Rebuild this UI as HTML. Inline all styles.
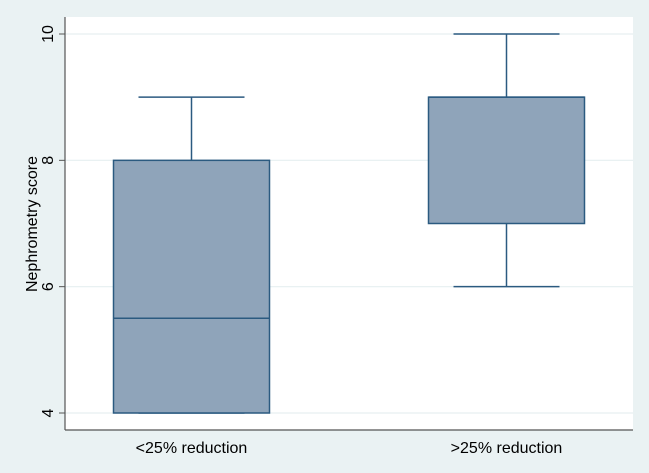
<!DOCTYPE html>
<html><head><meta charset="utf-8"><style>
html,body{margin:0;padding:0;background:#eaf2f3;}
svg{display:block;font-family:"Liberation Sans",sans-serif;}
</style></head><body>
<svg width="649" height="473" viewBox="0 0 649 473">
<rect x="0" y="0" width="649" height="473" fill="#eaf2f3"/>
<rect x="65" y="17" width="568" height="413" fill="#ffffff"/>
<g id="grid"></g>
<g id="boxes"></g>
<line x1="65" y1="17" x2="65" y2="430" stroke="#555" stroke-width="1.2"/>
<line x1="65" y1="430" x2="633" y2="430" stroke="#555" stroke-width="1.2"/>
<g id="yticks"></g>
<g id="xlabels"></g>
<text transform="translate(37,224) rotate(-90)" text-anchor="middle" font-size="16" fill="#000">Nephrometry score</text>
</svg>
<script>
const categories = ["<25% reduction", ">25% reduction"];
const mins = [4, 6];
const q1s = [4, 7];
const medians = [5.5, 9];
const q3s = [8, 9];
const maxs = [9, 10];
const yTicks = [4, 6, 8, 10];

const NS = "http://www.w3.org/2000/svg";
const y = v => 413 - (v - 4) * (413 - 34) / 6;
const xCenters = i => 191.5 + i * 315;
function mk(tag, attrs, parent) {
  const e = document.createElementNS(NS, tag);
  for (const k in attrs) e.setAttribute(k, attrs[k]);
  parent.appendChild(e);
  return e;
}
const grid = document.getElementById('grid');
const yt = document.getElementById('yticks');
yTicks.forEach(t => {
  const g = mk('line', {x1: 65, x2: 633, y1: y(t), y2: y(t), stroke: '#e6eff1', 'stroke-width': 1.2}, grid);
  
  
  const tk = mk('line', {x1: 59, x2: 65, y1: y(t), y2: y(t), stroke: '#555', 'stroke-width': 1}, yt);
  
  
  const tx = mk('text', {transform: `translate(53,${y(t)}) rotate(-90)`, 'text-anchor': 'middle', 'font-size': 16, fill: '#000'}, yt);
  tx.textContent = t;
  
  
});
const bx = document.getElementById('boxes');
const xl = document.getElementById('xlabels');
const col = '#2b5a80';
categories.forEach((c, i) => {
  const cx = xCenters(i);
  const g = mk('g', {}, bx);
  
  
  mk('line', {x1: cx, x2: cx, y1: y(maxs[i]), y2: y(q3s[i]), stroke: col, 'stroke-width': 1.5}, g);
  mk('line', {x1: cx, x2: cx, y1: y(q1s[i]), y2: y(mins[i]), stroke: col, 'stroke-width': 1.5}, g);
  mk('line', {x1: cx - 53, x2: cx + 53, y1: y(maxs[i]), y2: y(maxs[i]), stroke: col, 'stroke-width': 1.5}, g);
  mk('line', {x1: cx - 53, x2: cx + 53, y1: y(mins[i]), y2: y(mins[i]), stroke: col, 'stroke-width': 1.5}, g);
  mk('rect', {x: cx - 78, width: 156, y: y(q3s[i]), height: Math.max(0.5, y(q1s[i]) - y(q3s[i])), fill: '#8fa4ba', stroke: col, 'stroke-width': 1.5}, g);
  mk('line', {x1: cx - 78, x2: cx + 78, y1: y(medians[i]), y2: y(medians[i]), stroke: col, 'stroke-width': 1.5}, g);
  const t = mk('text', {x: cx, y: 453, 'text-anchor': 'middle', 'font-size': 16, fill: '#000'}, xl);
  t.textContent = c;
  
  
});
</script>
</body></html>
